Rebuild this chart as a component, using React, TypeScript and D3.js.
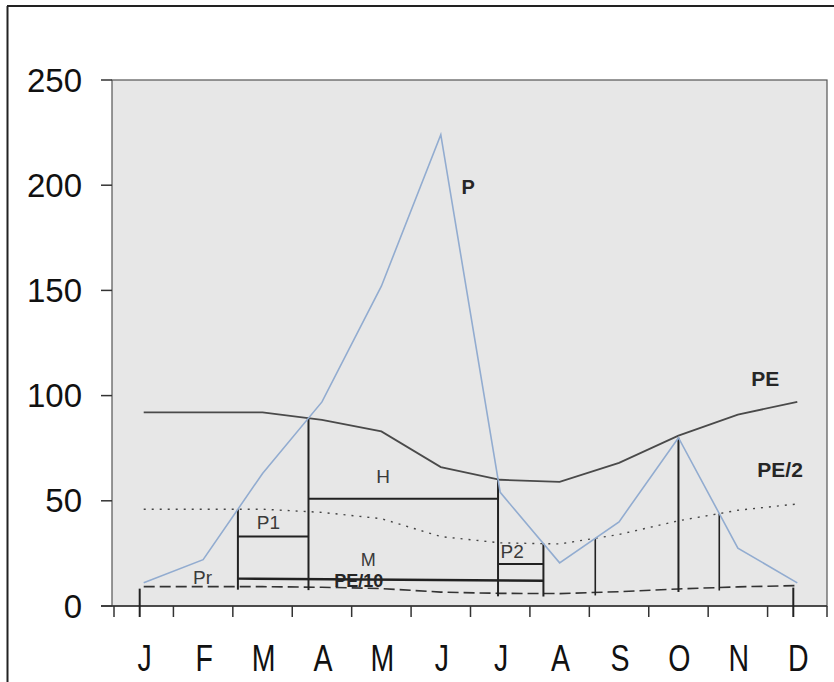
import React from "react";
import * as d3 from "d3";

// Monthly water-balance diagram: precipitation P against potential evapotranspiration PE
const months = ["J", "F", "M", "A", "M", "J", "J", "A", "S", "O", "N", "D"];
const precip = [11, 22, 63, 97, 152, 224, 54, 20.5, 40, 80, 27.5, 11];
const pe = [92, 92, 92, 88.5, 83, 66, 60, 59, 68, 81, 91, 97];
const peHalf = [46, 46, 46, 44.5, 41.5, 33, 30, 29.5, 34, 40.5, 45.5, 48.5];
const peTenth = [9.2, 9.2, 9.2, 8.9, 8.3, 6.6, 6, 5.9, 6.8, 8.1, 9.1, 9.7];
const yTicks = [0, 50, 100, 150, 200, 250];

// levels of the horizontal reserve bars
const levelP1 = 33;
const levelH = 51;
const levelM = [13, 12];
const levelP2 = 20;

const W = 834;
const H = 682;
const plot = { left: 112, right: 827, top: 80, bottom: 606 };

// fractional month index where series a crosses series b within segment i..i+1
function crossing(a: number[], b: number[], i: number) {
  const d0 = a[i] - b[i];
  const d1 = a[i + 1] - b[i + 1];
  return i + d0 / (d0 - d1);
}
function interp(arr: number[], t: number) {
  const i = Math.min(Math.floor(t), arr.length - 2);
  const f = t - i;
  return arr[i] + (arr[i + 1] - arr[i]) * f;
}

export default function App() {
  const band = d3
    .scaleBand<number>()
    .domain(d3.range(months.length))
    .range([114, plot.right]);
  const bw = band.bandwidth();
  const x = (t: number) => (band(0) as number) + bw / 2 + t * bw;
  const y = d3.scaleLinear().domain([0, 250]).range([plot.bottom, plot.top]);

  const line = (arr: number[]) =>
    d3
      .line<number>()
      .x((_, i) => x(i))
      .y((d) => y(d))(arr) as string;

  const c1 = crossing(precip, peHalf, 1);
  const c2 = crossing(precip, pe, 2);
  const c3 = crossing(precip, pe, 5);
  const c4 = crossing(precip, peHalf, 6);
  const c5 = crossing(precip, peHalf, 7);
  const c6 = 9;
  const c7 = crossing(precip, peHalf, 9);

  const drops = [
    { t: c1, top: interp(peHalf, c1), w: 2 },
    { t: c2, top: interp(pe, c2), w: 2 },
    { t: c3, top: interp(pe, c3), w: 2 },
    { t: c4, top: interp(peHalf, c4), w: 2 },
    { t: c5, top: interp(peHalf, c5), w: 1.6 },
    { t: c6, top: precip[9], w: 2 },
    { t: c7, top: interp(peHalf, c7), w: 1.6 },
  ];

  const bars = [
    { a: c1, b: c2, v0: levelP1, v1: levelP1, w: 2 },
    { a: c2, b: c3, v0: levelH, v1: levelH, w: 2 },
    { a: c1, b: c4, v0: levelM[0], v1: levelM[1], w: 2.4 },
    { a: c3, b: c4, v0: levelP2, v1: levelP2, w: 2 },
  ];

  const labels = [
    { text: "P", t: 5.46, v: 199, bold: true, size: 20 },
    { text: "PE", t: 10.46, v: 108, bold: true, size: 21 },
    { text: "PE/2", t: 10.71, v: 65, bold: true, size: 21 },
    { text: "H", t: 4.03, v: 61.5, bold: false, size: 19 },
    { text: "P1", t: 2.1, v: 39.8, bold: false, size: 19 },
    { text: "P2", t: 6.2, v: 25.8, bold: false, size: 19 },
    { text: "M", t: 3.78, v: 21.8, bold: false, size: 18 },
    { text: "PE/10", t: 3.62, v: 11.8, bold: true, size: 18 },
    { text: "Pr", t: 0.99, v: 13.6, bold: false, size: 19 },
  ];

  const font = "Liberation Sans, Arial, sans-serif";

  return (
    <svg
      width={W}
      height={H}
      style={{ position: "absolute", left: 0, top: 0, background: "#fff" }}
      fontFamily={font}
    >
      {/* outer frame */}
      <line x1={7} x2={W} y1={6} y2={6} stroke="#222" strokeWidth={2} />
      <line x1={7.5} x2={7.5} y1={6} y2={H} stroke="#222" strokeWidth={2} />

      {/* plot area */}
      <rect
        x={plot.left}
        y={plot.top}
        width={plot.right - plot.left}
        height={plot.bottom - plot.top}
        fill="#e7e7e7"
        stroke="#555"
        strokeWidth={1.2}
      />

      {/* y axis */}
      {yTicks.map((v) => (
        <g key={v}>
          <line x1={101} x2={plot.left} y1={y(v)} y2={y(v)} stroke="#333" strokeWidth={1.5} />
          <text
            x={82}
            y={y(v)}
            textAnchor="end"
            dominantBaseline="central"
            fontSize={33}
            fill="#111"
          >
            {v}
          </text>
        </g>
      ))}

      {/* x axis */}
      <line x1={101} x2={plot.right} y1={y(0)} y2={y(0)} stroke="#333" strokeWidth={1.5} />
      {d3.range(months.length + 1).map((k) => {
        const xx = k < months.length ? (band(k) as number) : plot.right;
        return <line key={k} x1={xx} x2={xx} y1={y(0)} y2={y(0) + 11} stroke="#333" strokeWidth={1.5} />;
      })}
      {months.map((m, i) => (
        <text
          key={i}
          x={0}
          y={0}
          transform={`translate(${x(i) + 1},${658}) scale(0.92,1.2)`}
          textAnchor="middle"
          dominantBaseline="central"
          fontSize={31}
          fill="#111"
        >
          {m}
        </text>
      ))}

      {/* end markers at January and December */}
      {[0, 11].map((i) => (
        <line
          key={i}
          x1={x(i) - 4}
          x2={x(i) - 4}
          y1={y(peTenth[i]) + 2}
          y2={y(0) + 11}
          stroke="#222"
          strokeWidth={2}
        />
      ))}

      {/* PE/10 dashed */}
      <path d={line(peTenth)} fill="none" stroke="#333" strokeWidth={1.6} strokeDasharray="11,5" />
      {/* PE/2 dotted */}
      <path d={line(peHalf)} fill="none" stroke="#444" strokeWidth={1.4} strokeDasharray="2,6" />

      {/* reserve bars */}
      {bars.map((b, i) => (
        <line
          key={i}
          x1={x(b.a)}
          x2={x(b.b)}
          y1={y(b.v0)}
          y2={y(b.v1)}
          stroke="#222"
          strokeWidth={b.w}
        />
      ))}
      {/* verticals at the crossings */}
      {drops.map((d, i) => (
        <line
          key={i}
          x1={x(d.t)}
          x2={x(d.t)}
          y1={y(d.top)}
          y2={y(interp(peTenth, d.t)) + 3}
          stroke="#222"
          strokeWidth={d.w}
        />
      ))}

      {/* PE */}
      <path d={line(pe)} fill="none" stroke="#4a4a4a" strokeWidth={1.8} />
      {/* P */}
      <path d={line(precip)} fill="none" stroke="#92acd0" strokeWidth={1.6} />

      {labels.map((l) => (
        <text
          key={l.text}
          x={x(l.t)}
          y={y(l.v)}
          textAnchor="middle"
          dominantBaseline="central"
          fontSize={l.size}
          fontWeight={l.bold ? "bold" : "normal"}
          fill={l.bold ? "#262626" : "#3a3a3a"}
        >
          {l.text}
        </text>
      ))}
    </svg>
  );
}
